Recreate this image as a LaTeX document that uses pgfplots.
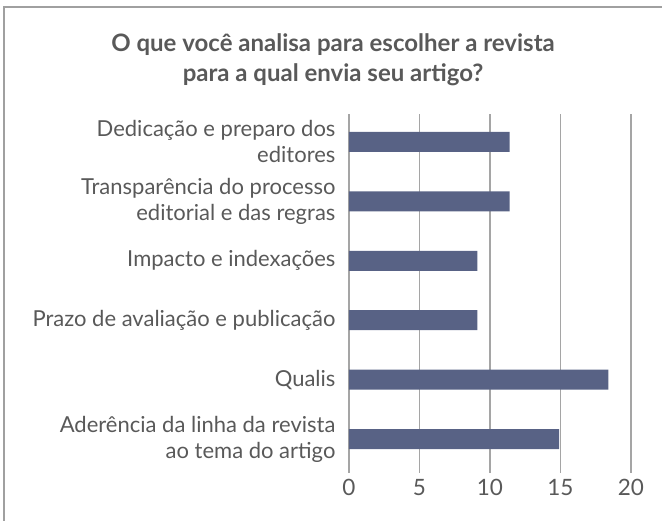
\documentclass[border=0pt]{standalone}
\usepackage{pgfplots}
\pgfplotsset{compat=1.18}
\usepackage{fontspec}
\setmainfont{Lato}
\definecolor{barc}{RGB}{88,98,133}
\definecolor{txt}{RGB}{89,89,89}
\definecolor{gridc}{RGB}{165,165,165}
\definecolor{framec}{RGB}{160,160,160}
\begin{document}
\begin{tikzpicture}[x=1pt,y=1pt]
\useasboundingbox (0,0) rectangle (662,521);
\draw[framec, line width=1.5pt] (4,0) -- (4,514) -- (662,514);
\node[font=\bfseries\fontsize{24}{30}\selectfont, text=txt, align=center] at (333,461) {O que você analisa para escolher a revista\\para a qual envia seu artigo?};
\begin{axis}[
  at={(349pt,48pt)}, anchor=south west,
  scale only axis, width=282pt, height=359pt,
  xbar, xmin=0, xmax=20, ymin=-0.57, ymax=5.47,
  bar width=20pt,
  axis line style={draw=none},
  major tick length=0pt,
  xtick={0,5,10,15,20},
  ytick={0,1,2,3,4,5},
  yticklabels={{Aderência da linha da revista\\ao tema do artigo},{Qualis},{Prazo de avaliação e publicação},{Impacto e indexações},{Transparência do processo\\editorial e das regras},{Dedicação e preparo dos\\editores}},
  yticklabel style={font=\fontsize{22}{26}\selectfont, text=txt, align=right, xshift=-10pt},
  xticklabel style={font=\fontsize{22.5}{26}\selectfont, text=txt, yshift=-3pt},
  /pgf/number format/assume math mode=true,
  xmajorgrids, major grid style={gridc, line width=1.2pt},
]
\addplot[fill=barc, draw=none] coordinates {(14.9,0) (18.4,1) (9.1,2) (9.1,3) (11.4,4) (11.4,5)};
\end{axis}
\end{tikzpicture}
\end{document}
